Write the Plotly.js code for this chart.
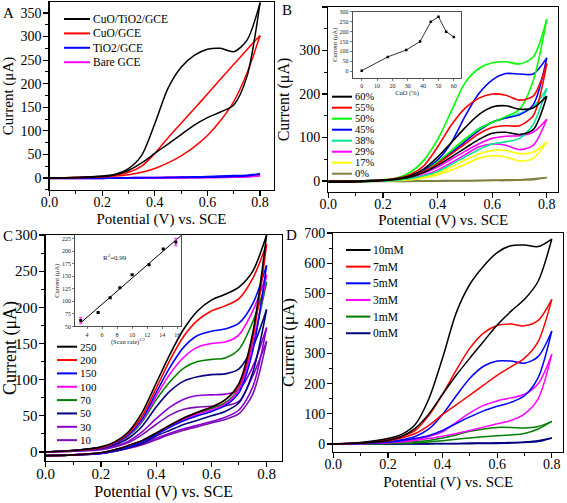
<!DOCTYPE html>
<html>
<head>
<meta charset="utf-8">
<script src="https://cdn.plot.ly/plotly-3.0.1.min.js"></script>
<style>html,body{margin:0;padding:0;background:#fff;}#chart{width:567px;height:503px;}</style>
</head>
<body>
<div id="chart"></div>
<script>
// ---------- DATA ----------
const potential = [0, 0.1, 0.2, 0.25, 0.3, 0.35, 0.4, 0.45, 0.5, 0.55, 0.6, 0.65, 0.7, 0.75, 0.8];

// Panel A
const aNames = ['CuO/TiO2/GCE', 'CuO/GCE', 'TiO2/GCE', 'Bare GCE'];
const aFwd_CuOTiO2 = [0, 1, 4, 8, 20, 48, 115, 190, 235, 260, 273, 275, 268, 292, 372];
const aRev_CuOTiO2 = [0, 1, 3, 7, 16, 32, 52, 72, 92, 112, 128, 140, 155, 215, 372];
const aFwd_CuO = [0, 1, 3, 6, 12, 25, 52, 85, 116, 147, 178, 210, 241, 272, 302];
const aRev_CuO = [0, 1, 2, 4, 7, 12, 20, 32, 47, 66, 90, 122, 162, 222, 302];
const aFwd_TiO2 = [0, 0, 0, 0, 0.5, 1, 1, 1.5, 2, 2.5, 3, 4, 5, 6, 9];
const aRev_TiO2 = [-1, -1, -1, -0.5, 0, 0, 0.5, 0.5, 1, 1, 1.5, 2, 3, 4, 9];
const aFwd_Bare = [0, 0, 0, 0, 0, 0.5, 0.5, 1, 1, 1.5, 2, 2.5, 3, 3.5, 5];
const aRev_Bare = [-0.5, -0.5, -0.5, 0, 0, 0, 0, 0.5, 0.5, 1, 1, 1.5, 2, 2.5, 5];

// Panel B (CuO loading)
const bNames = ['60%', '55%', '50%', '45%', '38%', '29%', '17%', '0%'];
const bFwd_60 = [0, 0, 2, 5, 12, 28, 55, 88, 122, 152, 170, 173, 165, 168, 195];
const bRev_60 = [-3, -2, 1, 4, 9, 20, 36, 55, 75, 95, 110, 112, 107, 118, 195];
const bFwd_55 = [0, 0, 2, 6, 15, 35, 78, 128, 167, 190, 200, 197, 186, 195, 270];
const bRev_55 = [-3, -2, 1, 4, 10, 22, 40, 62, 85, 108, 123, 127, 127, 150, 270];
const bFwd_50 = [0, 0, 3, 7, 20, 48, 95, 160, 225, 258, 272, 274, 269, 285, 372];
const bRev_50 = [-3, -2, 1, 4, 10, 22, 44, 70, 96, 118, 135, 148, 165, 230, 372];
const bFwd_45 = [0, 0, 2, 5, 12, 25, 48, 88, 148, 200, 232, 247, 246, 246, 283];
const bRev_45 = [-3, -2, 1, 4, 10, 22, 42, 65, 90, 115, 135, 145, 152, 175, 283];
const bFwd_38 = [0, 0, 2, 4, 10, 22, 42, 68, 95, 120, 135, 145, 155, 170, 213];
const bRev_38 = [-3, -2, 0, 2, 6, 12, 22, 38, 55, 72, 85, 90, 98, 130, 213];
const bFwd_29 = [0, 0, 1, 3, 6, 13, 25, 42, 60, 78, 85, 82, 72, 82, 142];
const bRev_29 = [-3, -2, 1, 3, 8, 18, 32, 50, 68, 85, 98, 103, 104, 112, 142];
const bFwd_17 = [0, 0, 0, 1, 3, 7, 14, 25, 38, 52, 58, 55, 46, 52, 90];
const bRev_17 = [-3, -2, 0, 2, 4, 9, 18, 32, 48, 62, 70, 70, 63, 66, 90];
const bFwd_0 = [0, 0, 0, 0, 0, 0.5, 0.5, 1, 1, 1.5, 2, 2.5, 3, 5, 8];
const bRev_0 = [-2, -1.5, -1, -1, -1, -0.5, -0.5, 0, 0, 0.5, 1, 1, 2, 3, 8];
// Panel B inset
const insetCuO = [0, 17, 29, 38, 45, 50, 55, 60];
const insetCuOCurrent = [2, 72, 107, 150, 250, 275, 200, 173];

// Panel C (scan rate)
const cNames = ['250', '200', '150', '100', '70', '50', '30', '10'];
const cFwd_250 = [0, 2, 7, 14, 28, 55, 95, 135, 170, 195, 210, 218, 228, 250, 300];
const cRev_250 = [-5, -4, -1, 3, 9, 16, 26, 37, 47, 55, 62, 72, 95, 165, 300];
const cFwd_200 = [0, 2, 6, 13, 26, 50, 88, 127, 160, 182, 195, 202, 212, 240, 287];
const cRev_200 = [-5, -4, -1, 3, 9, 16, 26, 37, 47, 55, 62, 72, 92, 158, 287];
const cFwd_150 = [0, 2, 6, 12, 24, 46, 82, 117, 145, 161, 167, 170, 178, 205, 258];
const cRev_150 = [-5, -4, -2, 2, 7, 14, 24, 34, 43, 50, 56, 64, 82, 140, 258];
const cFwd_100 = [0, 2, 6, 12, 23, 44, 77, 108, 131, 145, 150, 152, 162, 195, 245];
const cRev_100 = [-5, -4, -1, 3, 8, 15, 25, 35, 45, 52, 58, 66, 86, 148, 245];
const cFwd_70 = [0, 2, 6, 12, 22, 42, 72, 97, 116, 125, 128, 130, 142, 180, 235];
const cRev_70 = [-5, -4, -1, 3, 8, 15, 25, 36, 46, 54, 60, 68, 88, 150, 235];
const cFwd_50 = [0, 2, 5, 10, 19, 36, 62, 84, 98, 104, 107, 108, 115, 145, 197];
const cRev_50 = [-5, -4, -2, 1, 6, 12, 22, 30, 38, 44, 50, 56, 68, 110, 197];
const cFwd_30 = [0, 1, 4, 8, 15, 28, 46, 62, 73, 78, 79, 80, 86, 118, 172];
const cRev_30 = [-5, -4, -2, 1, 5, 11, 19, 26, 32, 37, 42, 48, 58, 90, 172];
const cFwd_10 = [0, 1, 3, 7, 13, 24, 38, 51, 59, 62, 63, 64, 70, 105, 153];
const cRev_10 = [-5, -4, -2, 1, 5, 10, 17, 24, 30, 35, 40, 45, 53, 80, 153];
// Panel C inset
const scanRates = [10, 30, 50, 70, 100, 150, 200, 250];
const insetPeakCurrent = [62, 78, 107, 127, 153, 173, 204, 218];
const insetErr = [6, 0, 0, 0, 0, 0, 0, 7];

// Panel D (concentration)
const dNames = ['10mM', '7mM', '5mM', '3mM', '1mM', '0mM'];
const dFwd_10 = [0, 5, 18, 32, 65, 150, 285, 435, 530, 590, 635, 658, 660, 655, 680];
const dRev_10 = [0, 3, 12, 25, 52, 100, 165, 228, 285, 340, 395, 440, 480, 540, 680];
const dFwd_7 = [0, 4, 14, 25, 45, 95, 165, 245, 318, 368, 393, 398, 392, 410, 480];
const dRev_7 = [0, 3, 10, 20, 35, 62, 98, 130, 162, 195, 228, 256, 285, 340, 480];
const dFwd_5 = [0, 3, 8, 14, 25, 50, 98, 160, 218, 258, 275, 275, 268, 290, 375];
const dRev_5 = [0, 2, 6, 11, 18, 28, 45, 68, 90, 110, 125, 138, 160, 220, 375];
const dFwd_3 = [0, 2, 5, 10, 15, 25, 40, 72, 103, 128, 143, 153, 165, 200, 298];
const dRev_3 = [0, 1, 4, 7, 12, 18, 26, 35, 45, 56, 67, 78, 100, 150, 298];
const dFwd_1 = [0, 1, 3, 5, 8, 12, 20, 30, 42, 50, 55, 55, 53, 58, 75];
const dRev_1 = [0, 0, 1, 2, 4, 7, 11, 16, 20, 24, 27, 30, 35, 50, 75];
const dFwd_0 = [0, 0, 0, 1, 1, 1, 2, 2, 3, 3, 4, 5, 7, 11, 20];
const dRev_0 = [-1, -1, -1, 0, 0, 0, 1, 1, 1, 2, 2, 3, 5, 8, 20];

// ---------- STYLE ----------
const FONT = 'Times New Roman, Liberation Serif, serif';
const W = 567, H = 503;
const px = v => v / W;
const py = v => 1 - v / H;

const aColors = ['#000000', '#ff0000', '#0000ff', '#ff00ff'];
const bColors = ['#000000', '#ff0000', '#00ff00', '#0000ff', '#00e890', '#ff00ff', '#ffff00', '#808040'];
const cColors = ['#000000', '#ff0000', '#0000ff', '#ff00ff', '#008000', '#000080', '#8a00d0', '#7a10b0'];
const dColors = ['#000000', '#ff0000', '#0000ff', '#ff00ff', '#008000', '#000080'];

const traces = [];
function addLoop(xa, ya, name, color, fwd, rev, w) {
  const common = {type: 'scatter', mode: 'lines', xaxis: xa, yaxis: ya, name: name, legendgroup: xa + name,
    showlegend: false, line: {color: color, width: w || 1.5, shape: 'spline', smoothing: 0.8}};
  traces.push(Object.assign({}, common, {x: potential, y: fwd}));
  traces.push(Object.assign({}, common, {x: potential.slice().reverse(), y: rev.slice().reverse()}));
}

// Panel A (draw order: back to front)
addLoop('x', 'y', aNames[3], aColors[3], aFwd_Bare, aRev_Bare, 2);
addLoop('x', 'y', aNames[2], aColors[2], aFwd_TiO2, aRev_TiO2, 1.5);
addLoop('x', 'y', aNames[1], aColors[1], aFwd_CuO, aRev_CuO, 1.5);
addLoop('x', 'y', aNames[0], aColors[0], aFwd_CuOTiO2, aRev_CuOTiO2, 1.5);

// Panel B
const bF = [bFwd_60, bFwd_55, bFwd_50, bFwd_45, bFwd_38, bFwd_29, bFwd_17, bFwd_0];
const bR = [bRev_60, bRev_55, bRev_50, bRev_45, bRev_38, bRev_29, bRev_17, bRev_0];
for (let i = bNames.length - 1; i >= 0; i--) addLoop('x2', 'y2', bNames[i], bColors[i], bF[i], bR[i], 1.6);

// Panel C
const cF = [cFwd_250, cFwd_200, cFwd_150, cFwd_100, cFwd_70, cFwd_50, cFwd_30, cFwd_10];
const cR = [cRev_250, cRev_200, cRev_150, cRev_100, cRev_70, cRev_50, cRev_30, cRev_10];
for (let i = cNames.length - 1; i >= 0; i--) addLoop('x3', 'y3', cNames[i], cColors[i], cF[i], cR[i], 1.6);

// Panel D
const dF = [dFwd_10, dFwd_7, dFwd_5, dFwd_3, dFwd_1, dFwd_0];
const dR = [dRev_10, dRev_7, dRev_5, dRev_3, dRev_1, dRev_0];
for (let i = dNames.length - 1; i >= 0; i--) addLoop('x4', 'y4', dNames[i], dColors[i], dF[i], dR[i], 1.5);

// Inset B
traces.push({type: 'scatter', mode: 'lines+markers', xaxis: 'x5', yaxis: 'y5', x: insetCuO, y: insetCuOCurrent,
  name: 'Peak current vs CuO', showlegend: false, line: {color: '#333', width: 1}, marker: {symbol: 'square', size: 2.5, color: '#000'}});

// Inset C
const sqrtRate = scanRates.map(Math.sqrt);
const n = sqrtRate.length;
const mx = sqrtRate.reduce((s, v) => s + v, 0) / n;
const my = insetPeakCurrent.reduce((s, v) => s + v, 0) / n;
let sxy = 0, sxx = 0;
for (let i = 0; i < n; i++) { sxy += (sqrtRate[i] - mx) * (insetPeakCurrent[i] - my); sxx += (sqrtRate[i] - mx) ** 2; }
const slope = sxy / sxx, icpt = my - slope * mx;
const insetXRange = [2.4, 16.5];
const fitX = [Math.min(...sqrtRate), insetXRange[1]];
traces.push({type: 'scatter', mode: 'lines', xaxis: 'x6', yaxis: 'y6', x: fitX, y: fitX.map(v => icpt + slope * v),
  name: 'Linear fit', showlegend: false, line: {color: '#000', width: 1}});
traces.push({type: 'scatter', mode: 'markers', xaxis: 'x6', yaxis: 'y6', x: sqrtRate, y: insetPeakCurrent,
  name: 'Peak current', showlegend: false, marker: {symbol: 'square', size: 3, color: '#000'},
  error_y: {type: 'data', array: insetErr, visible: true, color: '#ff40ff', thickness: 1.5, width: 1.5}});

// ---------- AXES ----------
function xAx(dom, range, anchor, tf, titleSize, standoff) {
  return {domain: dom, range: range, anchor: anchor, showline: true, linecolor: 'black', linewidth: 1.3, mirror: true,
    ticks: 'outside', ticklen: 5, tickwidth: 1.2, tickcolor: 'black', tick0: 0, dtick: 0.2, tickformat: '.1f',
    ticklabelstandoff: -6,
    minor: {dtick: 0.1, ticks: 'outside', ticklen: 3, tickwidth: 1, tickcolor: 'black'},
    zeroline: false, showgrid: false, automargin: false, fixedrange: true,
    tickfont: {family: FONT, size: tf, color: 'black'},
    title: {text: 'Potential (V) vs. SCE', font: {family: FONT, size: titleSize, color: 'black'}, standoff: standoff}};
}
function yAx(dom, range, anchor, dtick, minorDtick, tf, titleSize, standoff) {
  return {domain: dom, range: range, anchor: anchor, showline: true, linecolor: 'black', linewidth: 1.3, mirror: true,
    ticks: 'outside', ticklen: 5, tickwidth: 1.2, tickcolor: 'black', tick0: 0, dtick: dtick,
    ticklabelstandoff: -1,
    minor: {dtick: minorDtick, ticks: 'outside', ticklen: 3, tickwidth: 1, tickcolor: 'black'},
    zeroline: false, showgrid: false, automargin: false, fixedrange: true,
    tickfont: {family: FONT, size: tf, color: 'black'},
    title: {text: 'Current (μA)', font: {family: FONT, size: titleSize, color: 'black'}, standoff: standoff}};
}
function insetAx(dom, range, anchor, dtick, title) {
  return {domain: dom, range: range, anchor: anchor, showline: true, linecolor: '#222', linewidth: 0.8, mirror: true,
    ticks: 'outside', ticklen: 2, tickwidth: 0.6, tickcolor: '#222', dtick: dtick, tick0: 0,
    zeroline: false, showgrid: false, automargin: false, fixedrange: true,
    tickfont: {family: FONT, size: 6, color: '#222'},
    title: {text: title, font: {family: FONT, size: 6.5, color: '#222'}, standoff: 1}};
}

const layout = {
  width: W, height: H, margin: {l: 0, r: 0, t: 0, b: 0}, paper_bgcolor: 'white', plot_bgcolor: 'white',
  showlegend: false, font: {family: FONT, color: 'black'},
  xaxis: xAx([px(49.5), px(273.5)], [0, 0.851], 'y', 14, 15, 4),
  yaxis: yAx([py(190), py(2)], [-25.5, 373.3], 'x', 50, 25, 14, 15, 5),
  xaxis2: xAx([px(328.3), px(558)], [0, 0.841], 'y2', 14, 15, 3),
  yaxis2: yAx([py(192), py(7)], [-25.3, 400], 'x2', 100, 50, 14, 16, 5),
  xaxis3: xAx([px(45.7), px(281.5)], [0, 0.854], 'y3', 15, 16, 4),
  yaxis3: yAx([py(461), py(235)], [-12.5, 300], 'x3', 50, 25, 15, 18, 5),
  xaxis4: xAx([px(333.3), px(563)], [0, 0.841], 'y4', 14, 15, 5),
  yaxis4: yAx([py(452), py(233)], [-26.5, 700], 'x4', 100, 50, 14, 17, 5),
  xaxis5: insetAx([px(352.5), px(461.5)], [-6, 65], 'y5', 10, 'CuO (%)'),
  yaxis5: insetAx([py(78), py(11.5)], [-35, 302], 'x5', 50, 'Current (μA)'),
  xaxis6: insetAx([px(75), px(181)], insetXRange, 'y6', 2, '(Scan rate)<sup>1/2</sup>'),
  yaxis6: insetAx([py(326.5), py(235)], [50, 232], 'x6', 25, 'Current (μA)'),
  shapes: [], annotations: []
};

// panel letters
[['A', 8, 13], ['B', 287, 10], ['C', 8, 236], ['D', 291, 235]].forEach(p => {
  layout.annotations.push({text: p[0], xref: 'paper', yref: 'paper', x: px(p[1]), y: py(p[2]), showarrow: false,
    xanchor: 'center', yanchor: 'middle', font: {family: FONT, size: 15, color: 'black'}});
});
// R^2
layout.annotations.push({text: 'R<sup>2</sup>=0.99', xref: 'x6', yref: 'y6', x: 5.8, y: 188, showarrow: false,
  xanchor: 'left', yanchor: 'middle', font: {family: FONT, size: 7, color: '#222'}});

// manual legends
function legend(names, colors, x0, x1, yStart, step, fs) {
  names.forEach((nm, i) => {
    const yy = yStart + i * step;
    layout.shapes.push({type: 'line', xref: 'paper', yref: 'paper', x0: px(x0), x1: px(x1), y0: py(yy), y1: py(yy),
      line: {color: colors[i], width: 2}});
    layout.annotations.push({text: nm, xref: 'paper', yref: 'paper', x: px(x1 + 0.5), y: py(yy), showarrow: false,
      xanchor: 'left', yanchor: 'middle', font: {family: FONT, size: fs, color: 'black'}});
  });
}
legend(aNames, aColors, 64, 90, 19, 14.4, 11.5);
legend(bNames, bColors, 332, 352, 96.7, 11.0, 10.5);
legend(cNames, cColors, 57, 77, 346.7, 13.35, 11);
legend(dNames, dColors, 346, 370.5, 250, 16.65, 11.5);

Plotly.newPlot('chart', traces, layout, {staticPlot: true, displayModeBar: false});
</script>
</body>
</html>
